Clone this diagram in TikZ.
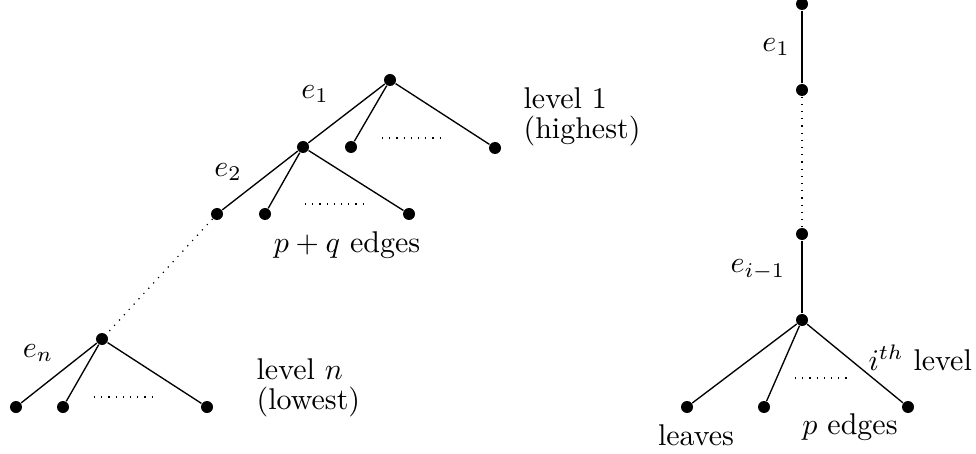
\documentclass[tikz,border=0pt]{standalone}
\begin{document}
\begin{tikzpicture}[x=0.3333pt,y=-0.3333pt,
  vtx/.style={circle,fill=black,inner sep=0pt,minimum size=4pt},
  lbl/.style={inner sep=0pt},
  edge/.style={line width=0.45pt}]
\useasboundingbox (0,0) rectangle (976,454);
% left upper tree
\node[vtx] (a) at (390,80) {};
\node[vtx] (b) at (303,147) {};
\node[vtx] (a2) at (351,147) {};
\node[vtx] (a3) at (495,148) {};
\node[vtx] (b1) at (217,214) {};
\node[vtx] (b2) at (265,214) {};
\node[vtx] (b3) at (409,214) {};
\draw[edge] (a) -- (b); \draw[edge] (a) -- (a2); \draw[edge] (a) -- (a3);
\draw[edge] (b) -- (b1); \draw[edge] (b) -- (b2); \draw[edge] (b) -- (b3);
\coordinate (d1s) at (382,138); \coordinate (d1e) at (445,138);
\draw[dotted] (d1s) -- (d1e);
\coordinate (d2s) at (305,204); \coordinate (d2e) at (368,204);
\draw[dotted] (d2s) -- (d2e);
\node[lbl] (le1) at (315,94) {$e_1$};
\node[lbl] (le2) at (228,172) {$e_2$};
\node[lbl] (pq) at (347,245) {$p+q$ edges};
\node[lbl,anchor=west] (lv1) at (523,98) {level 1};
\node[lbl,anchor=west] (hi) at (523,131) {(highest)};
% bottom left tree
\node[vtx] (c) at (102,339) {};
\node[vtx] (c1) at (16,407) {};
\node[vtx] (c2) at (63,407) {};
\node[vtx] (c3) at (207,407) {};
\draw[dotted] (b1) -- (c);
\draw[edge] (c) -- (c1); \draw[edge] (c) -- (c2); \draw[edge] (c) -- (c3);
\coordinate (d3s) at (94,397); \coordinate (d3e) at (157,397);
\draw[dotted] (d3s) -- (d3e);
\node[lbl] (len) at (38,353) {$e_n$};
\node[lbl,anchor=west] (lvn) at (256,369) {level $n$};
\node[lbl,anchor=west] (lo) at (256,402) {(lowest)};
% right tree
\node[vtx] (r1) at (802,4) {};
\node[vtx] (r2) at (802,90) {};
\node[vtx] (r3) at (802,234) {};
\node[vtx] (r4) at (802,320) {};
\node[vtx] (l1) at (687,407) {};
\node[vtx] (l2) at (764,407) {};
\node[vtx] (l3) at (908,407) {};
\draw[edge] (r1) -- (r2);
\draw[dotted] (r2) -- (r3);
\draw[edge] (r3) -- (r4);
\draw[edge] (r4) -- (l1); \draw[edge] (r4) -- (l2); \draw[edge] (r4) -- (l3);
\coordinate (d4s) at (795,378); \coordinate (d4e) at (850,378);
\draw[dotted] (d4s) -- (d4e);
\node[lbl] (re1) at (776,47) {$e_1$};
\node[lbl] (rei) at (758,270) {$e_{i-1}$};
\node[lbl,anchor=west] (ith) at (868,358) {$i^{th}$ level};
\node[lbl] (lv) at (696,435) {leaves};
\node[lbl] (pe) at (850,427) {$p$ edges};
\end{tikzpicture}
\end{document}
